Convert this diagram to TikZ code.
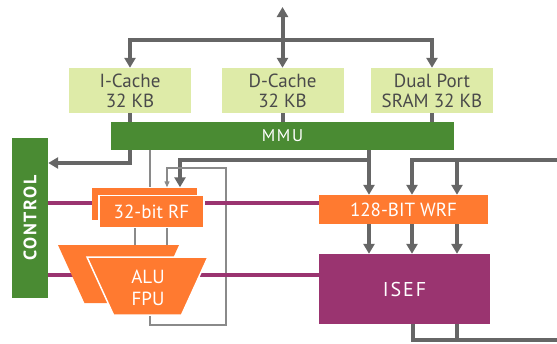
\documentclass[tikz,border=0pt]{standalone}
\usepackage{fontspec}
\setmainfont{PT Sans}
\newfontfamily\wide[LetterSpace=10]{PT Sans}
\usetikzlibrary{arrows.meta,backgrounds}
\definecolor{cachegreen}{HTML}{DEEBA8}
\definecolor{cachetext}{HTML}{4A4A4A}
\definecolor{mmugreen}{HTML}{4A8B33}
\definecolor{unitorange}{HTML}{FF7A30}
\definecolor{isefpurple}{HTML}{9A3470}
\definecolor{wiregray}{HTML}{666666}
\definecolor{thingray}{HTML}{8A8A8A}

\begin{document}
\begin{tikzpicture}[x=1pt,y=-1pt,line join=miter,
  >={Triangle[width=11pt,length=10pt]},
  bus/.style={draw=wiregray,line width=4pt},
  feedback/.style={draw=thingray,line width=1.2pt,>={Triangle[width=5pt,length=6pt]}},
  ctrlline/.style={draw=isefpurple,line width=4pt},
  cache/.style={fill=cachegreen,text=cachetext,minimum width=122pt,minimum height=45pt,inner sep=0pt,align=center,font=\fontsize{19}{20}\selectfont},
  orangebox/.style={fill=unitorange,text=white,inner sep=0pt,font=\fontsize{19}{20}\selectfont}]
\useasboundingbox (0,0) rectangle (557,343);
\node[cache] (icache) at (130,90.5) {I-Cache\\32 KB};
\node[cache] (dcache) at (282.5,90.5) {D-Cache\\32 KB};
\node[cache] (sram) at (432,90.5) {Dual Port\\SRAM 32 KB};
\node[fill=mmugreen,text=white,minimum width=343pt,minimum height=28pt,inner sep=0pt,font=\wide\fontsize{17}{17}\selectfont] (mmu) at (282.5,136) {MMU};
\node[fill=mmugreen,minimum width=36pt,minimum height=160pt,inner sep=0pt,
  label={[rotate=90,text=white,font=\wide\bfseries\fontsize{18}{18}\selectfont]center:CONTROL}] (control) at (30,218) {};
\node[orangebox,minimum width=105pt,minimum height=32pt] (rfback) at (144.5,203.5) {};
\node[orangebox,draw=white,line width=1.5pt,minimum width=105pt,minimum height=32pt] (rf) at (151.5,211.5) {32-bit RF};
\fill[unitorange] (58,245) -- ++(121,0) -- ++(-26.5,58) -- ++(-68,0) -- cycle;
\filldraw[fill=unitorange,draw=white,line width=1.5pt] (87,257) -- ++(121,0) -- ++(-26.5,58) -- ++(-68,0) -- cycle;
\node[text=white,align=center,inner sep=0pt,font=\fontsize{19}{22}\selectfont] (alu) at (148,288) {ALU\\FPU};
\node[orangebox,minimum width=169pt,minimum height=29pt] (wrf) at (403.5,209.5) {128-BIT WRF};
\node[fill=isefpurple,text=white,minimum width=171pt,minimum height=70pt,inner sep=0pt,font=\wide\fontsize{20}{20}\selectfont] (isef) at (404.5,289) {ISEF};
\coordinate (ext) at (282.5,7);
\coordinate (split) at (369,160);
\coordinate (rightin) at (557,160);
\coordinate (rightout) at (557,340);
\begin{scope}[on background layer]
\draw[bus,<->] (ext) -- (dcache.north);
\draw[bus,->] (dcache.north |- 0,40) -| (icache.north);
\draw[bus,->] (dcache.north |- 0,40) -| (sram.north);
\foreach \c in {icache,dcache,sram}
  \draw[bus] (\c.south) -- (\c.south |- mmu.north);
\draw[bus,->] (icache.south |- mmu.south) |- (control.east |- 0,163);
\draw[bus,->] (mmu.south -| split) -- (wrf.north -| split);
\draw[bus,->] (split) -| (rfback.north -| 180,0);
\draw[bus,->] (rightin) -| (wrf.north -| 412,0);
\draw[bus,->] (457,160) -- (wrf.north -| 457,0);
\foreach \x in {369,412,457}
  \draw[bus,->] (wrf.south -| \x,0) -- (isef.north -| \x,0);
\draw[bus] (isef.south -| 413,0) |- (rightout);
\draw[bus] (isef.south -| 457,0) -- (457,340);
\draw[feedback] (mmu.south -| 150,0) -- (rfback.north -| 150,0);
\draw[feedback] (rf.south -| 135,0) -- (135,250);
\draw[feedback] (rf.south -| 167,0) -- (167,250);
\draw[feedback,->] (150,310) |- (226,325) |- (167,168) -- (rfback.north -| 167,0);
\draw[ctrlline] (control.east |- 0,203) -- (wrf.west |- 0,203);
\draw[ctrlline] (control.east |- 0,275) -- (isef.west |- 0,275);
\end{scope}
\end{tikzpicture}
\end{document}
